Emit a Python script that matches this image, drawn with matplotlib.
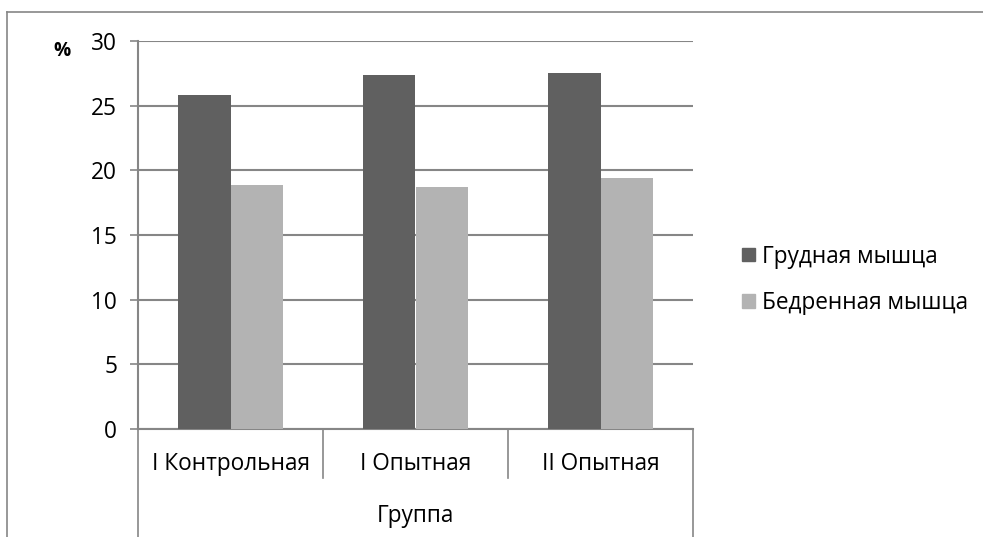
import matplotlib.pyplot as plt
from matplotlib.transforms import blended_transform_factory
from matplotlib.patches import Patch

plt.rcParams['font.family'] = ['Open Sans', 'DejaVu Sans']

# muscle share by group, %
groups = ['I Контрольная', 'I Опытная', 'II Опытная']
breast = [25.8, 27.4, 27.5]
thigh = [18.9, 18.7, 19.4]
series_names = ['Грудная мышца', 'Бедренная мышца']
axis_title = 'Группа'
y_ticks = [0, 5, 10, 15, 20, 25, 30]

W, H = 983, 537
DARK = '#606060'
LIGHT = '#b3b3b3'
LINE = '#868686'
FS = 16.3

fig = plt.figure(figsize=(W / 100, H / 100), dpi=100)

# outer chart border (left and top edges visible)
fig.add_artist(plt.Line2D([7 / W, 7 / W], [0, 1 - 12 / H], color=LINE, lw=1.2))
fig.add_artist(plt.Line2D([7 / W, 1], [1 - 12 / H, 1 - 12 / H], color=LINE, lw=1.2))

left, right, top, bottom = 138, 693, 41, 429
ax = fig.add_axes([left / W, 1 - bottom / H, (right - left) / W, (bottom - top) / H])

x = list(range(len(groups)))
bw = 0.285
ax.bar([i - bw / 2 for i in x], breast, bw, color=DARK, zorder=3, label=series_names[0])
ax.bar([i + bw / 2 for i in x], thigh, bw, color=LIGHT, zorder=3, label=series_names[1])

ax.set_xlim(-0.5, len(groups) - 0.5)
ax.set_ylim(0, 30)
ax.set_yticks(y_ticks)
ax.tick_params(axis='y', length=6, width=1.2, color=LINE, labelsize=FS, pad=9)
ax.set_xticks([])
ax.yaxis.grid(True, color=LINE, lw=1.5, zorder=0)
for s in ['top', 'right']:
    ax.spines[s].set_visible(False)
for s in ['left', 'bottom']:
    ax.spines[s].set_color(LINE)
    ax.spines[s].set_linewidth(1.5)

# two-level category axis
trans = blended_transform_factory(ax.transData, ax.transAxes)
ph = bottom - top
for i in range(1, len(groups)):
    ax.plot([i - 0.5, i - 0.5], [0, -49 / ph], color=LINE, lw=1.2, transform=trans, clip_on=False)
for xe in [-0.5, len(groups) - 0.5]:
    ax.plot([xe, xe], [0, -120 / ph], color=LINE, lw=1.2, transform=trans, clip_on=False)
for i, g in enumerate(groups):
    ax.text(i, -35 / ph, g, transform=trans, ha='center', va='center', fontsize=FS)
ax.text((len(groups) - 1) / 2, -87 / ph, axis_title, transform=trans,
        ha='center', va='center', fontsize=FS)

fig.text(62 / W, 1 - 51 / H, '%', ha='center', va='center', fontsize=FS - 2.5, fontweight='bold')

handles = [Patch(color=DARK), Patch(color=LIGHT)]
fig.legend(handles, series_names, loc='center left', bbox_to_anchor=(722 / W, 1 - 280 / H),
           frameon=False, fontsize=FS, handlelength=0.55, handleheight=0.55,
           handletextpad=0.3, labelspacing=1.0)

fig.savefig('out.png', dpi=100)
